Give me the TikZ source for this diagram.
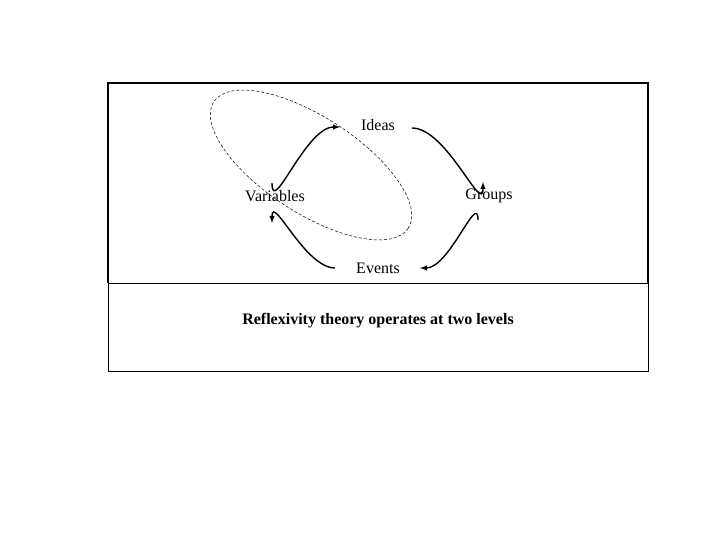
\documentclass[tikz,border=0pt]{standalone}
\usepackage{fontspec}
\setmainfont{Liberation Serif}
\begin{document}
\begin{tikzpicture}[x=1pt,y=-1pt,
  lbl/.style={font=\fontsize{16}{18}\selectfont, inner sep=1pt},
  arr/.style={-latex, line width=1.4pt},
  frame/.style={draw, line width=0.8pt}]
\useasboundingbox (0,0) rectangle (720,540);
\draw[frame, line width=1.4pt] (108,283) -- (108,83) -- (648,83) -- (648,283);
\draw[frame] (108,283) rectangle (648,371);
\node[lbl] (ideas) at (378,125) {Ideas};
\node[lbl] (var) at (275,196) {Variables};
\node[lbl] (grp) at (489,196) {Groups};
\node[lbl] (evt) at (378,268) {Events};
\node[lbl, font=\fontsize{16}{18}\selectfont\bfseries] (cap) at (378,321) {Reflexivity theory operates at two levels};
\coordinate (a1) at (272,183); \coordinate (a2) at (340,127);
\coordinate (b1) at (412,128); \coordinate (b2) at (483,182);
\coordinate (c1) at (478,220); \coordinate (c2) at (420,268);
\coordinate (d1) at (335,268); \coordinate (d2) at (272,223);
\draw[arr] (a1) to[out=-90,in=180] (a2);
\draw[arr] (b1) to[out=0,in=-90] (b2);
\draw[arr] (c1) to[out=90,in=0] (c2);
\draw[arr] (d1) to[out=180,in=90] (d2);
\draw[dashed, line width=0.5pt, dash pattern=on 3pt off 2pt] (311,165) ellipse[x radius=116, y radius=48, rotate=-33];
\end{tikzpicture}
\end{document}
